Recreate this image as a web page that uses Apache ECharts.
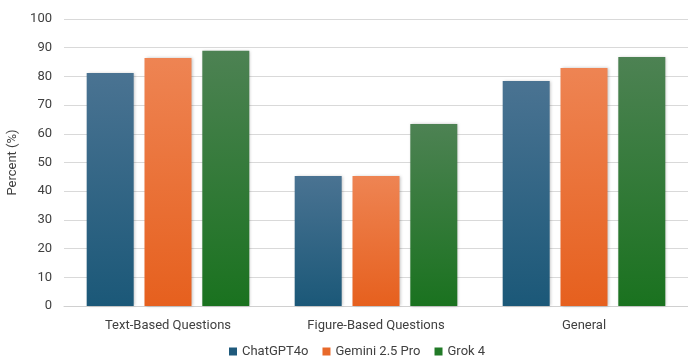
<!DOCTYPE html>
<html>
<head>
<meta charset="utf-8">
<script src="https://cdn.jsdelivr.net/npm/echarts@6/dist/echarts.min.js"></script>
<style>
  html, body { margin: 0; padding: 0; background: #fff; }
  #chart { width: 688px; height: 363px; }
</style>
</head>
<body>
<div id="chart"></div>
<script>
var categories = ['Text-Based Questions', 'Figure-Based Questions', 'General'];
var chatgpt = [81.2, 45.3, 78.4];
var gemini = [86.4, 45.3, 82.9];
var grok = [88.9, 63.4, 86.8];
var yTicks = [0, 10, 20, 30, 40, 50, 60, 70, 80, 90, 100];

function grad(top, bottom) {
  return new echarts.graphic.LinearGradient(0, 0, 0, 1, [
    { offset: 0, color: top },
    { offset: 1, color: bottom }
  ]);
}

var chart = echarts.init(document.getElementById('chart'));
var font = 'Roboto, "Open Sans", sans-serif';

function bar(name, data, top, bottom) {
  return {
    name: name,
    type: 'bar',
    data: data,
    barWidth: 47,
    barGap: '23%',
    itemStyle: {
      color: grad(top, bottom),
      shadowColor: 'rgba(0,0,0,0.25)',
      shadowBlur: 3,
      shadowOffsetX: 1,
      shadowOffsetY: 0
    }
  };
}

var option = {
  animation: false,
  textStyle: { fontFamily: font },
  grid: { left: 64, right: 0, top: 19, bottom: 57, outerBoundsMode: 'none' },
  legend: {
    bottom: 0,
    left: 224,
    itemWidth: 8,
    itemHeight: 8,
    itemGap: 14,
    icon: 'rect',
    textStyle: { color: '#404040', fontSize: 13, fontFamily: font },
    data: [
      { name: 'ChatGPT4o', itemStyle: { color: '#1f5a7c' } },
      { name: 'Gemini 2.5 Pro', itemStyle: { color: '#e8692a' } },
      { name: 'Grok 4', itemStyle: { color: '#217a27' } }
    ]
  },
  xAxis: {
    type: 'category',
    data: categories,
    axisLine: { lineStyle: { color: '#d0d0d0', width: 1 } },
    axisTick: { show: false },
    axisLabel: { color: '#404040', fontSize: 13, margin: 13 }
  },
  yAxis: {
    type: 'value',
    min: yTicks[0],
    max: yTicks[yTicks.length - 1],
    interval: 10,
    name: 'Percent (%)',
    nameLocation: 'middle',
    nameGap: 41,
    nameTextStyle: { color: '#404040', fontSize: 13 },
    axisLabel: { color: '#404040', fontSize: 13, margin: 12 },
    axisLine: { show: false },
    axisTick: { show: false },
    splitLine: { lineStyle: { color: '#d9d9d9', width: 1 } }
  },
  series: [
    bar('ChatGPT4o', chatgpt, '#4a7392', '#1b5878'),
    bar('Gemini 2.5 Pro', gemini, '#ee8453', '#e6601e'),
    bar('Grok 4', grok, '#4d8253', '#1a721f')
  ]
};
chart.setOption(option);
</script>
</body>
</html>
